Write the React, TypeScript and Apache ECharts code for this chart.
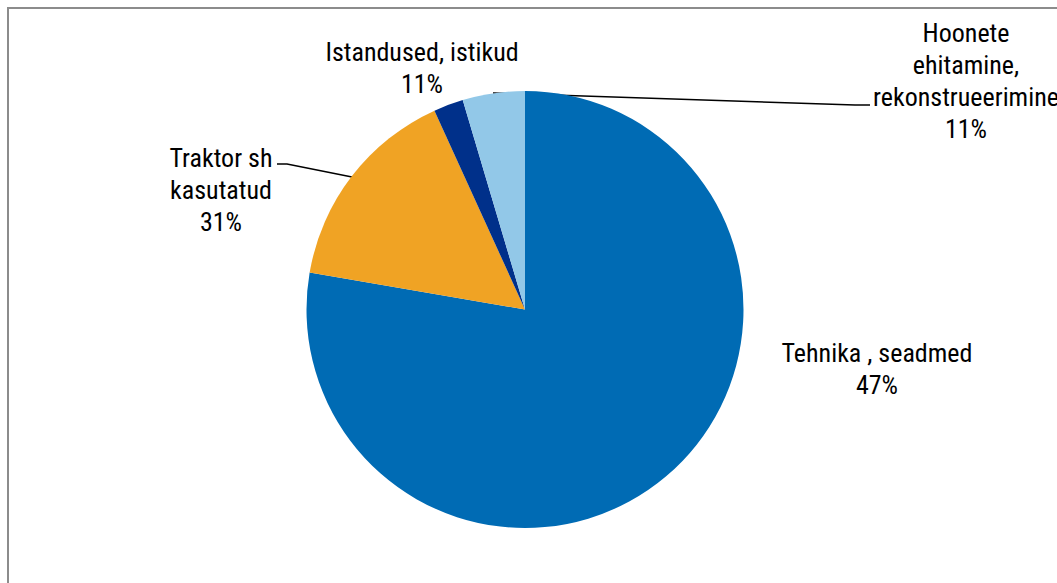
import React, { useEffect, useRef } from "react";
import * as echarts from "echarts";

const categories = [
  "Tehnika , seadmed",
  "Traktor sh kasutatud",
  "Istandused, istikud",
  "Hoonete ehitamine, rekonstrueerimine",
];
const displayNames = [
  "Tehnika , seadmed",
  "Traktor sh\nkasutatud",
  "Istandused, istikud",
  "Hoonete\nehitamine,\nrekonstrueerimine",
];
const values = [77.7, 15.5, 2.2, 4.6];
const percentLabels = ["47%", "31%", "11%", "11%"];
const colors = ["#006BB4", "#F0A324", "#00308A", "#92C8E8"];

// label block centers and leader lines (layout only)
const labelPos = [
  [877, 369],
  [221, 190],
  [422, 68],
  [966, 81],
];
const leaderLines: (number[][] | null)[] = [
  null,
  [
    [352, 177],
    [287, 164],
    [277, 164],
  ],
  null,
  [
    [493, 93],
    [855, 105],
    [870, 105],
  ],
];

const FONT = "'Roboto Condensed', 'Liberation Sans Narrow', 'Arial Narrow', Roboto, sans-serif";

export default function App() {
  const ref = useRef<HTMLDivElement>(null);
  useEffect(() => {
    if (!ref.current) return;
    const chart = echarts.init(ref.current, null, { renderer: "svg" });
    chart.setOption({
      animation: false,
      backgroundColor: "#ffffff",
      graphic: [
        {
          type: "rect",
          shape: { x: 8, y: 8, width: 1200, height: 800 },
          style: { fill: "none", stroke: "#8c8c8c", lineWidth: 2 },
          silent: true,
        },
      ],
      series: [
        {
          type: "pie",
          center: [525, 309.5],
          radius: [0, 218.5],
          startAngle: 90,
          clockwise: true,
          avoidLabelOverlap: false,
          itemStyle: { borderWidth: 0 },
          label: {
            show: true,
            position: "outside",
            color: "#000",
            fontFamily: FONT,
            fontSize: 26,
            lineHeight: 32,
            align: "center",
            formatter: (p: any) =>
              displayNames[p.dataIndex] + "\n" + percentLabels[p.dataIndex],
          },
          labelLine: {
            show: true,
            lineStyle: { color: "#000", width: 1.5 },
          },
          labelLayout: (params: any) => {
            const i = params.dataIndex;
            const out: any = {
              x: labelPos[i][0],
              y: labelPos[i][1],
              align: "center",
              verticalAlign: "middle",
            };
            if (leaderLines[i]) out.labelLinePoints = leaderLines[i];
            return out;
          },
          data: categories.map((c, i) => ({
            name: c,
            value: values[i],
            itemStyle: { color: colors[i] },
            labelLine: { show: !!leaderLines[i] },
          })),
        },
      ],
    });
    return () => chart.dispose();
  }, []);
  return (
    <div
      ref={ref}
      style={{ position: "fixed", left: 0, top: 0, width: 1057, height: 583 }}
    />
  );
}
